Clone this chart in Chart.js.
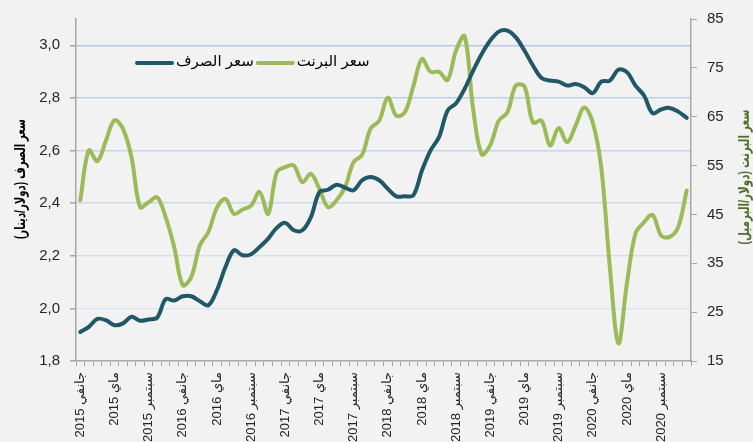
<!DOCTYPE html>
<html lang="ar">
<head>
<meta charset="utf-8">
<title>سعر الصرف وسعر البرنت</title>
<script src="https://cdn.jsdelivr.net/npm/chart.js@4/dist/chart.umd.min.js"></script>
<style>
  html, body { margin: 0; padding: 0; background: #f2f2f2; }
  #wrap { width: 753px; height: 442px; position: relative; }
</style>
</head>
<body>
<div id="wrap"><canvas id="chart" width="753" height="442"></canvas></div>
<script>
'use strict';

// ─── Datos ────────────────────────────────────────────────────────────────────
const MESES = ['جانفي', 'فيفري', 'مارس', 'أفريل', 'ماي', 'جوان',
               'جويلية', 'أوت', 'سبتمبر', 'أكتوبر', 'نوفمبر', 'ديسمبر'];
const ANIOS = [2015, 2016, 2017, 2018, 2019, 2020];

// Sale como "2015 جانفي" en pantalla (número abajo al rotar)
const categorias = ANIOS.flatMap(a => MESES.map(m => `${a} ${m}`));

// Tipo de cambio (dólar/dinar), mensual ene-2015 .. dic-2020
const tipoCambio = [
  1.91, 1.93, 1.96, 1.955, 1.936, 1.943, 1.968, 1.953, 1.958, 1.965, 2.035, 2.03,
  2.046, 2.046, 2.027, 2.012, 2.07, 2.157, 2.221, 2.202, 2.206, 2.233, 2.265, 2.306,
  2.325, 2.297, 2.297, 2.347, 2.442, 2.451, 2.47, 2.459, 2.449, 2.487, 2.499, 2.487,
  2.455, 2.426, 2.426, 2.43, 2.524, 2.6, 2.651, 2.752, 2.78, 2.835, 2.904, 2.967,
  3.018, 3.052, 3.056, 3.03, 2.98, 2.923, 2.876, 2.866, 2.862, 2.847, 2.853, 2.841,
  2.818, 2.862, 2.866, 2.907, 2.898, 2.847, 2.809, 2.742, 2.756, 2.762, 2.748, 2.724,
];

// Precio del Brent (dólar/barril)
const brent = [
  47.9, 58.1, 55.9, 60.1, 64.3, 62.5, 56.7, 46.5, 47.5, 48.5, 44.4, 38.3,
  30.5, 32.2, 38.7, 41.4, 46.4, 48.2, 45.1, 46.0, 46.8, 49.6, 45.1, 53.6,
  54.7, 55.0, 51.6, 53.3, 50.2, 46.5, 47.9, 50.6, 55.7, 57.2, 62.6, 64.2,
  68.9, 65.2, 65.9, 71.3, 76.8, 74.2, 74.2, 72.5, 78.6, 81.5, 66.5, 57.3,
  59.2, 64.2, 65.9, 71.4, 71.2, 63.8, 64.2, 59.1, 62.7, 59.8, 63.2, 66.9,
  63.8, 54.5, 34.2, 18.6, 30.9, 41.1, 43.4, 44.9, 40.7, 40.4, 42.4, 49.9,
];

const ticksCambio = [1.8, 2.0, 2.2, 2.4, 2.6, 2.8, 3.0];
const ticksBrent = [15, 25, 35, 45, 55, 65, 75, 85];

// ─── Estilo ───────────────────────────────────────────────────────────────────
const COLORS = {
  cambio: '#215868',
  brent: '#9bbb59',
  eje: '#a6a6a6',
  texto: '#262626',
  tituloBrent: '#4f6f2a',
};
const FUENTE = "'Liberation Sans', 'DejaVu Sans', sans-serif";

// Líneas de cuadrícula más intensas arriba, más claras abajo
function colorGrid(valor) {
  const t = Math.min(1, Math.max(0, (3.0 - valor) / 1.0));
  const a = [180, 199, 231], b = [222, 229, 243];
  const c = a.map((v, i) => Math.round(v + (b[i] - v) * t));
  return `rgb(${c[0]},${c[1]},${c[2]})`;
}

// ─── Plugins: leyenda y títulos de ejes ──────────────────────────────────────
const leyendaPlugin = {
  id: 'leyendaManual',
  afterDraw(chart) {
    const { ctx } = chart;
    const y = 63;
    let x = 135;
    ctx.save();
    ctx.font = `15px ${FUENTE}`;
    ctx.textBaseline = 'middle';
    ctx.textAlign = 'left';
    chart.data.datasets.forEach(ds => {
      ctx.strokeStyle = ds.borderColor;
      ctx.lineWidth = 4;
      ctx.lineCap = 'round';
      ctx.beginPath();
      ctx.moveTo(x + 2, y);
      ctx.lineTo(x + 37, y);
      ctx.stroke();
      x += 41;
      ctx.fillStyle = '#000';
      ctx.fillText(ds.label, x, y - 1);
      x += ctx.measureText(ds.label).width + 2;
    });
    ctx.restore();
  },
};

const titulosPlugin = {
  id: 'titulosEjes',
  afterDraw(chart) {
    const { ctx } = chart;
    // texto girado -90°, ajustado a una longitud fija
    const titulo = (txt, x, y, largo, color) => {
      ctx.save();
      ctx.font = `bold 15px ${FUENTE}`;
      const w = ctx.measureText(txt).width;
      ctx.translate(x, y);
      ctx.rotate(-Math.PI / 2);
      ctx.scale(Math.min(1, largo / w), 1);
      ctx.fillStyle = color;
      ctx.textAlign = 'center';
      ctx.textBaseline = 'middle';
      ctx.fillText(txt, 0, 0);
      ctx.restore();
    };
    titulo('(دولار/دينار) سعر الصرف', 21, 179, 120, '#000');
    titulo('(دولار/البرميل) سعر البرنت', 745, 177, 135, COLORS.tituloBrent);
  },
};

// ─── Gráfico ──────────────────────────────────────────────────────────────────
const ctx = document.getElementById('chart');

new Chart(ctx, {
  type: 'line',
  data: {
    labels: categorias,
    datasets: [
      {
        label: 'سعر الصرف',
        data: tipoCambio,
        yAxisID: 'y',
        borderColor: COLORS.cambio,
        backgroundColor: COLORS.cambio,
        borderWidth: 4,
        tension: 0.35,
        pointRadius: 0,
        borderCapStyle: 'round',
      },
      {
        label: 'سعر البرنت',
        data: brent,
        yAxisID: 'y1',
        borderColor: COLORS.brent,
        backgroundColor: COLORS.brent,
        borderWidth: 4,
        tension: 0.35,
        pointRadius: 0,
        borderCapStyle: 'round',
      },
    ],
  },
  options: {
    responsive: false,
    animation: false,
    layout: { padding: { top: 18, left: 0, right: 0, bottom: 0 } },
    plugins: {
      legend: { display: false },
      tooltip: { enabled: false },
    },
    scales: {
      x: {
        offset: true,
        afterFit: s => { s.height = 81; },
        border: { color: COLORS.eje, width: 1.5 },
        grid: {
          offset: true,
          drawOnChartArea: false,
          tickLength: 5,
          color: COLORS.eje,
        },
        ticks: {
          autoSkip: false,
          minRotation: 90,
          maxRotation: 90,
          padding: 6,
          color: COLORS.texto,
          font: { family: FUENTE, size: 13 },
          callback: (v, i) => (i % 4 === 0 ? categorias[i] : ''),
        },
      },
      y: {
        position: 'left',
        min: 1.8,
        max: 3.1,
        afterFit: s => { s.width = 76; },
        afterBuildTicks: s => {
          s.ticks = ticksCambio.map(v => ({ value: v }));
        },
        border: { color: COLORS.eje, width: 1.5 },
        grid: {
          color: c => (c.tick && c.tick.value > 1.85 ? colorGrid(c.tick.value) : 'rgba(0,0,0,0)'),
          lineWidth: 1.5,
          tickLength: 6,
          tickColor: COLORS.eje,
        },
        ticks: {
          padding: 10,
          color: COLORS.texto,
          font: { family: FUENTE, size: 15 },
          callback: v => Number(v).toFixed(1).replace('.', ','),
        },
      },
      y1: {
        position: 'right',
        min: 15,
        max: 85,
        afterFit: s => { s.width = 62; },
        afterBuildTicks: s => {
          s.ticks = ticksBrent.map(v => ({ value: v }));
        },
        border: { color: COLORS.eje, width: 1.5 },
        grid: {
          drawOnChartArea: false,
          tickLength: 6,
          color: COLORS.eje,
        },
        ticks: {
          padding: 10,
          color: COLORS.texto,
          font: { family: FUENTE, size: 15 },
        },
      },
    },
  },
  plugins: [leyendaPlugin, titulosPlugin],
});
</script>
</body>
</html>
